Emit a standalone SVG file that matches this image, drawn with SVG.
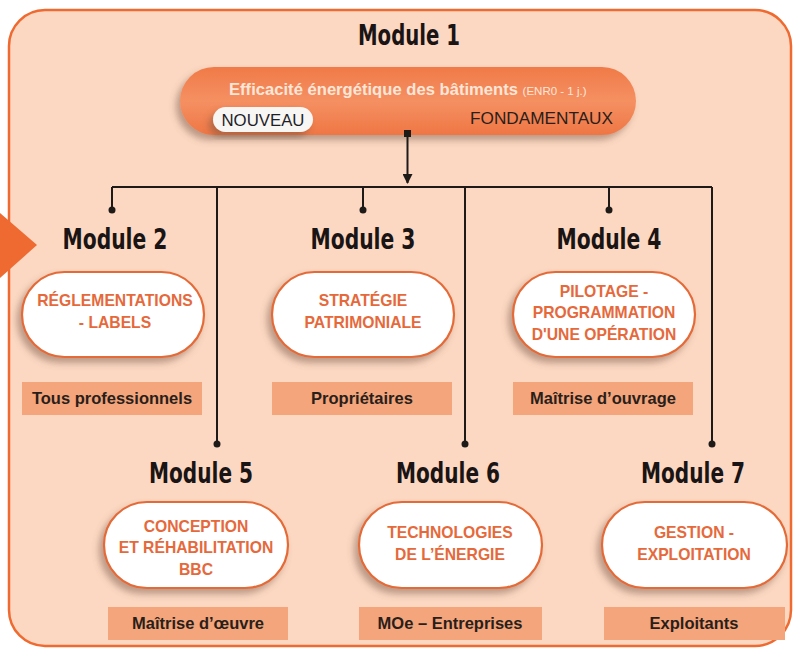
<svg xmlns="http://www.w3.org/2000/svg" width="795" height="650" viewBox="0 0 795 650">
<style>
.title{font-family:"DejaVu Sans Condensed","Liberation Sans Narrow","DejaVu Sans",sans-serif;font-weight:bold;font-size:28px;fill:#1a1414;text-anchor:middle}
.pill{fill:#ffffff;stroke:#e46a38;stroke-width:2.2}
.pt{font-family:"Liberation Sans",Arial,sans-serif;font-weight:bold;font-size:15.7px;fill:#e5693b;text-anchor:middle}
.lab{fill:#f4a57b}
.lt{font-family:"Liberation Sans",Arial,sans-serif;font-weight:bold;font-size:16.5px;fill:#2a1e1a;text-anchor:middle}
.conn{stroke:#1e1a18;stroke-width:2;fill:none}
.dot{fill:#1e1a18}
</style>
<defs>
<filter id="sh" x="-20%" y="-20%" width="140%" height="150%">
<feDropShadow dx="-4" dy="5" stdDeviation="3.5" flood-color="#6b4a3a" flood-opacity="0.45"/>
</filter>
<linearGradient id="og" x1="0" y1="0" x2="0" y2="1">
<stop offset="0" stop-color="#f07a48"/>
<stop offset="0.5" stop-color="#f59062"/>
<stop offset="1" stop-color="#ef7644"/>
</linearGradient>
<marker id="ah" viewBox="0 0 10 10" refX="9" refY="5" markerWidth="5" markerHeight="5" orient="auto">
<path d="M0,0 L10,5 L0,10 z" fill="#1e1a18"/>
</marker>
</defs>
<rect width="795" height="650" fill="#ffffff"/>
<rect x="9" y="10" width="782" height="636" rx="36" ry="36" fill="#fcd8c2" stroke="#ef6a30" stroke-width="2.5"/>
<polygon points="0,213 37,245 0,278" fill="#ef6a30"/>

<g id="module1">
<text class="title" x="409" y="45" textLength="102" lengthAdjust="spacingAndGlyphs">Module 1</text>
<rect x="180" y="67" width="456" height="68" rx="34" ry="34" fill="url(#og)" filter="url(#sh)"/>
<text x="229" y="95" font-family="Liberation Sans,Arial,sans-serif" font-weight="bold" font-size="16.5px" fill="#fde6d8"><tspan textLength="289" lengthAdjust="spacingAndGlyphs">Efficacité énergétique des bâtiments</tspan> <tspan font-size="11.5px" font-weight="normal">(ENR0 - 1 j.)</tspan></text>
<rect x="213" y="107" width="100" height="25" rx="12.5" ry="12.5" fill="#f8f6f4" filter="url(#sh)"/>
<text x="263" y="126" font-family="Liberation Sans,Arial,sans-serif" font-size="16.5px" fill="#1e1e28" text-anchor="middle" textLength="83" lengthAdjust="spacingAndGlyphs">NOUVEAU</text>
<text x="613" y="124" font-family="Liberation Sans,Arial,sans-serif" font-size="17px" fill="#2a1e1a" text-anchor="end" textLength="143" lengthAdjust="spacingAndGlyphs">FONDAMENTAUX</text>
</g>

<g id="connectors">
<rect x="404" y="130" width="7" height="7" class="dot"/>
<line x1="407.5" y1="134" x2="407.5" y2="183" class="conn" marker-end="url(#ah)"/>
<line x1="112" y1="187" x2="712" y2="187" class="conn"/>
<line x1="112" y1="187" x2="112" y2="210" class="conn"/><circle cx="112" cy="210" r="3.5" class="dot"/>
<line x1="363" y1="187" x2="363" y2="210" class="conn"/><circle cx="363" cy="210" r="3.5" class="dot"/>
<line x1="609" y1="187" x2="609" y2="210" class="conn"/><circle cx="609" cy="210" r="3.5" class="dot"/>
<line x1="217" y1="187" x2="217" y2="444" class="conn"/><circle cx="217" cy="444" r="3.5" class="dot"/>
<line x1="465" y1="187" x2="465" y2="444" class="conn"/><circle cx="465" cy="444" r="3.5" class="dot"/>
<line x1="712" y1="187" x2="712" y2="444" class="conn"/><circle cx="712" cy="444" r="3.5" class="dot"/>
</g>

<g id="module2">
<text class="title" x="115" y="249" textLength="105" lengthAdjust="spacingAndGlyphs">Module 2</text>
<rect class="pill" x="22" y="272" width="182" height="85" rx="42.5" filter="url(#sh)"/>
<text class="pt" x="115" y="306">RÉGLEMENTATIONS</text>
<text class="pt" x="115" y="328">- LABELS</text>
<rect class="lab" x="22" y="382" width="180" height="33"/>
<text class="lt" x="112" y="404">Tous professionnels</text>
</g>

<g id="module3">
<text class="title" x="363" y="249" textLength="105" lengthAdjust="spacingAndGlyphs">Module 3</text>
<rect class="pill" x="272" y="272" width="182" height="85" rx="42.5" filter="url(#sh)"/>
<text class="pt" x="363" y="306">STRATÉGIE</text>
<text class="pt" x="363" y="328">PATRIMONIALE</text>
<rect class="lab" x="272" y="382" width="180" height="33"/>
<text class="lt" x="362" y="404">Propriétaires</text>
</g>

<g id="module4">
<text class="title" x="609" y="249" textLength="105" lengthAdjust="spacingAndGlyphs">Module 4</text>
<rect class="pill" x="513" y="272" width="182" height="85" rx="42.5" filter="url(#sh)"/>
<text class="pt" x="604" y="297">PILOTAGE -</text>
<text class="pt" x="604" y="318">PROGRAMMATION</text>
<text class="pt" x="604" y="340">D'UNE OPÉRATION</text>
<rect class="lab" x="513" y="382" width="180" height="33"/>
<text class="lt" x="603" y="404">Maîtrise d’ouvrage</text>
</g>

<g id="module5">
<text class="title" x="201" y="483" textLength="104" lengthAdjust="spacingAndGlyphs">Module 5</text>
<rect class="pill" x="104" y="502" width="184" height="86" rx="43" filter="url(#sh)"/>
<text class="pt" x="196" y="532">CONCEPTION</text>
<text class="pt" x="196" y="553">ET RÉHABILITATION</text>
<text class="pt" x="196" y="575">BBC</text>
<rect class="lab" x="108" y="607" width="180" height="33"/>
<text class="lt" x="198" y="629">Maîtrise d’œuvre</text>
</g>

<g id="module6">
<text class="title" x="448" y="483" textLength="104" lengthAdjust="spacingAndGlyphs">Module 6</text>
<rect class="pill" x="359" y="502" width="183" height="86" rx="43" filter="url(#sh)"/>
<text class="pt" x="450" y="538">TECHNOLOGIES</text>
<text class="pt" x="450" y="560">DE L’ÉNERGIE</text>
<rect class="lab" x="359" y="607" width="183" height="33"/>
<text class="lt" x="450" y="629">MOe – Entreprises</text>
</g>

<g id="module7">
<text class="title" x="693" y="483" textLength="104" lengthAdjust="spacingAndGlyphs">Module 7</text>
<rect class="pill" x="602" y="502" width="185" height="86" rx="43" filter="url(#sh)"/>
<text class="pt" x="694" y="538">GESTION -</text>
<text class="pt" x="694" y="560">EXPLOITATION</text>
<rect class="lab" x="604" y="607" width="181" height="33"/>
<text class="lt" x="694" y="629">Exploitants</text>
</g>
</svg>
